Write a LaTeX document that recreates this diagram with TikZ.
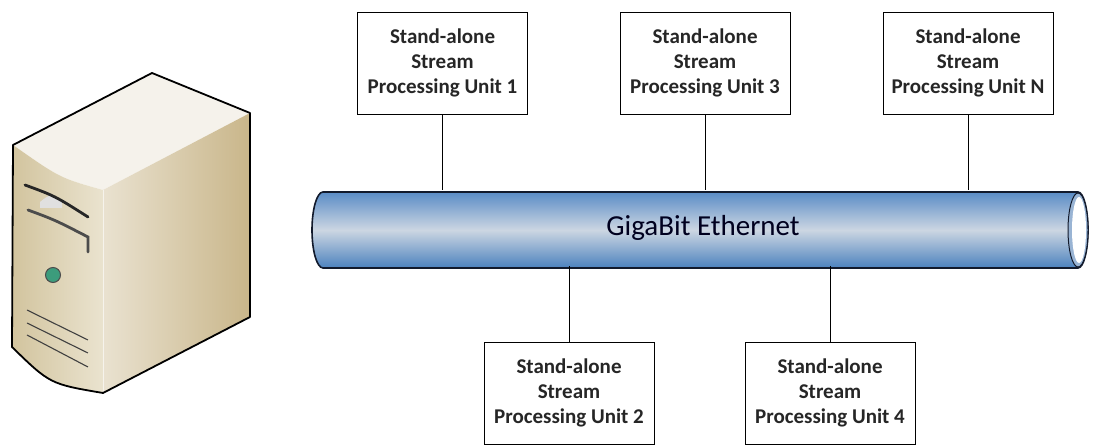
\documentclass[tikz,border=0pt]{standalone}
\usepackage{fontspec}
\setmainfont{Carlito}
\usepackage{xcolor}
\usetikzlibrary{positioning}

\definecolor{pipetop}{HTML}{5A8CC6}
\definecolor{pipemid}{HTML}{CCD6E2}
\definecolor{pipebot}{HTML}{4C82BE}
\definecolor{pipeline}{HTML}{121A2C}
\definecolor{caseface}{HTML}{EAE3CF}
\definecolor{caseedge}{HTML}{D2C49E}
\definecolor{caseside}{HTML}{C9B68A}
\definecolor{casetop}{HTML}{F5F2EB}
\definecolor{ledgreen}{HTML}{3C9C7C}

\tikzset{
  unitbox/.style={draw, line width=0.8pt, fill=white, minimum width=170pt,
    minimum height=102pt, inner sep=0pt, align=center, text=black!85,
    font=\fontsize{21}{25}\selectfont\bfseries},
  link/.style={line width=0.8pt},
  slot/.style={line width=2.8pt, line cap=round, black!85},
  vent/.style={line width=1.1pt, black!75},
}

\begin{document}
\begin{tikzpicture}[x=1pt,y=1pt]
  \useasboundingbox (0,0) rectangle (1094,446);
  % Rechner
  \fill[casetop] (13,301) -- (152,373) -- (250,333) -- (103,256) .. controls (60,268) .. (13,301);
  \shade[left color=caseside!40!white, right color=caseside] (103,256) -- (250,333) -- (250,129) -- (103,53) -- cycle;
  \shade[left color=caseedge, right color=caseface] (13,301) .. controls (60,268) .. (103,256) -- (103,53) .. controls (50,62) .. (12,99) -- cycle;
  \draw[white!80!caseedge, line width=1pt] (103,256) -- (103,53);
  \draw[line width=1.8pt, line join=round] (13,301) -- (152,373) -- (250,333) -- (250,129) -- (103,53) .. controls (50,62) .. (12,99) -- cycle;
  % Laufwerke
  \fill[black!12] (40,244) .. controls (50,252) .. (62,246) -- (62,238) -- (40,238) -- cycle;
  \draw[slot] (25,261) .. controls (55,250) .. (88,229);
  \draw[slot, black!70] (28,236) .. controls (55,226) .. (88,209) -- (88,194);
  % Knopf
  \draw[fill=ledgreen, line width=1pt, draw=black!70] (53,171) circle (7.5);
  % Lueftung
  \draw[vent] (27,136) -- (88,106);
  \draw[vent] (27,123) -- (88,93);
  \draw[vent] (27,111) -- (88,79);
  % Bus
  \shade[top color=pipetop, bottom color=pipebot, middle color=pipemid]
    (323,254) -- (1078,254) arc[start angle=90, end angle=-90, x radius=10, y radius=38]
    -- (323,178) arc[start angle=270, end angle=90, x radius=11, y radius=38] -- cycle;
  \draw[pipeline, line width=1.6pt]
    (323,254) -- (1078,254) arc[start angle=90, end angle=-90, x radius=10, y radius=38]
    -- (323,178) arc[start angle=270, end angle=90, x radius=11, y radius=38] -- cycle;
  \draw[fill=pipemid!60!pipebot, draw=pipeline, line width=1pt] (1078,216) ellipse (10 and 37);
  \fill[white] (1079,216) ellipse (7 and 33);
  \node (bus) [minimum width=756pt, minimum height=76pt, text=black!80!blue!60!black,
    font=\fontsize{29}{34}\selectfont] at (703,218) {GigaBit Ethernet};
  % Einheiten
  \node[unitbox] (spu1) at (442.5,383) {Stand-alone\\Stream\\Processing Unit 1};
  \node[unitbox] (spu3) at (705,383) {Stand-alone\\Stream\\Processing Unit 3};
  \node[unitbox] (spun) at (968,383) {Stand-alone\\Stream\\Processing Unit N};
  \node[unitbox] (spu2) at (569,53) {Stand-alone\\Stream\\Processing Unit 2};
  \node[unitbox] (spu4) at (830,53) {Stand-alone\\Stream\\Processing Unit 4};
  % Verbindungen
  \draw[link] (spu1) -- (spu1 |- bus.north);
  \draw[link] (spu3) -- (spu3 |- bus.north);
  \draw[link] (spun) -- (spun |- bus.north);
  \draw[link] (spu2) -- (spu2 |- bus.south);
  \draw[link] (spu4) -- (spu4 |- bus.south);
\end{tikzpicture}
\end{document}
